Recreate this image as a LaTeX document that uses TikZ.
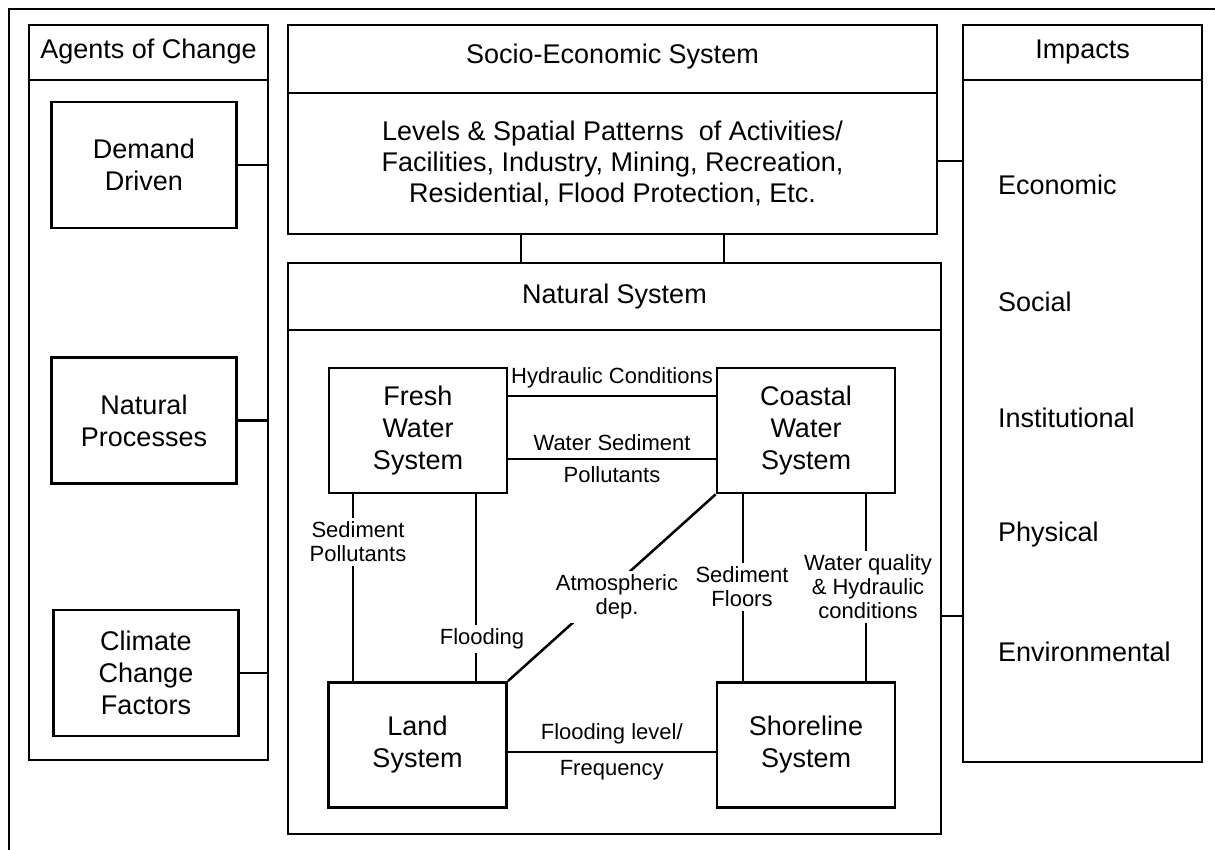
\documentclass[tikz,border=0pt]{standalone}
\usepackage{fontspec}
\setmainfont{Liberation Sans}
\usepackage{tikz}
\usetikzlibrary{positioning}
\tikzset{
	panel/.style={rectangle, draw=black, line width=1.4pt, inner sep=0pt},
	divider/.style={line width=1.4pt},
	boxnode/.style={rectangle, draw=black, line width=1.4pt, align=center, font=\fontsize{13.5}{16}\selectfont},
	sysbox/.style={boxnode, minimum width=89pt, minimum height=62.5pt},
	agentbox/.style={boxnode, minimum width=92.5pt, minimum height=63pt},
	headtext/.style={align=center, font=\fontsize{13.5}{15.5}\selectfont},
	linklabel/.style={align=center, font=\fontsize{11}{12}\selectfont},
	gaplabel/.style={linklabel, fill=white, inner sep=2pt},
	link/.style={line width=1.25pt}
}
\begin{document}
\begin{tikzpicture}[x=0.5pt, y=-0.5pt]
	\useasboundingbox (0,0) rectangle (1215,850);
	\clip (0,0) rectangle (1215,850);
	\draw[divider] (9,9) rectangle (1260,900);

	% agents of change
	\node[panel, minimum width=119.5pt, minimum height=367.5pt] (agents) at (148.5,392.5) {};
	\draw[divider] (agents.west |- 0,80) -- (agents.east |- 0,80);
	\node[headtext] (agentsT) at (148.5,52) {Agents of Change};
	\node[agentbox] (demand) at (144,165) {Demand\\Driven};
	\node[agentbox] (natproc) at (144,420.5) {Natural\\Processes};
	\node[agentbox] (climate) at (146,673) {Climate\\Change\\Factors};
	\draw[link] (demand.east) -- (demand.east -| agents.east);
	\draw[link] (natproc.east) -- (natproc.east -| agents.east);
	\draw[link] (climate.east) -- (climate.east -| agents.east);

	% socio-economic system
	\node[panel, minimum width=324.5pt, minimum height=104.5pt] (socio) at (612.5,129.5) {};
	\draw[divider] (socio.west |- 0,93) -- (socio.east |- 0,93);
	\node[headtext] (socioT) at (612.5,57) {Socio-Economic System};
	\node[headtext] (socioB) at (612.5,163) {Levels \& Spatial Patterns~ of Activities/\\Facilities, Industry, Mining, Recreation,\\Residential, Flood Protection, Etc.};

	% natural system
	\node[panel, minimum width=326.5pt, minimum height=285.5pt] (natural) at (614.5,548.5) {};
	\draw[divider] (natural.west |- 0,330) -- (natural.east |- 0,330);
	\node[headtext] (naturalT) at (614.5,297) {Natural System};
	\draw[link] (socio.south -| 521,0) -- (natural.north -| 521,0);
	\draw[link] (socio.south -| 724,0) -- (natural.north -| 724,0);

	% impacts
	\node[panel, minimum width=119.5pt, minimum height=368.5pt] (impacts) at (1082.5,393.5) {};
	\draw[divider] (impacts.west |- 0,80) -- (impacts.east |- 0,80);
	\node[headtext] (impactsT) at (1082.5,52) {Impacts};
	\foreach \name/\y in {Economic/185, Social/302, Institutional/418, Physical/535, Environmental/652}
		\node[headtext, anchor=west] (imp\name) at (991,\y) {\name};
	\draw[link] (socio.east |- 0,161) -- (impacts.west |- 0,161);
	\draw[link] (natural.east |- 0,616) -- (impacts.west |- 0,616);

	% subsystems
	\node[sysbox] (fresh) at (418,430.5) {Fresh\\Water\\System};
	\node[sysbox] (coastal) at (806,430.5) {Coastal\\Water\\System};
	\node[sysbox] (land) at (417.5,745) {Land\\System};
	\node[sysbox] (shore) at (806,745) {Shoreline\\System};

	\draw[link] (fresh.east |- 0,396) -- node[linklabel, above] {Hydraulic Conditions} (coastal.west |- 0,396);
	\draw[link] (fresh.east |- 0,459) -- node[linklabel, above] {Water Sediment} node[linklabel, below] {Pollutants} (coastal.west |- 0,459);
	\draw[link] (land.east |- 0,752) -- node[linklabel, above] {Flooding level/} node[linklabel, below] {Frequency} (shore.west |- 0,752);

	\draw[link] (fresh.south -| 353,0) -- (land.north -| 353,0);
	\node[gaplabel] (sedpol) at (358,542) {Sediment\\Pollutants};
	\draw[link] (fresh.south -| 476,0) -- (land.north -| 476,0);
	\node[gaplabel] (flood) at (482,639) {Flooding};
	\draw[link] (coastal.south west) -- (land.north east);
	\node[gaplabel] (atmos) at (617,597) {Atmospheric\\dep.};
	\draw[link] (coastal.south -| 743,0) -- (shore.north -| 743,0);
	\node[gaplabel] (sedfl) at (742,587) {Sediment\\Floors};
	\draw[link] (coastal.south -| 866,0) -- (shore.north -| 866,0);
	\node[gaplabel] (wq) at (868,587) {Water quality\\\& Hydraulic\\conditions};
\end{tikzpicture}
\end{document}
